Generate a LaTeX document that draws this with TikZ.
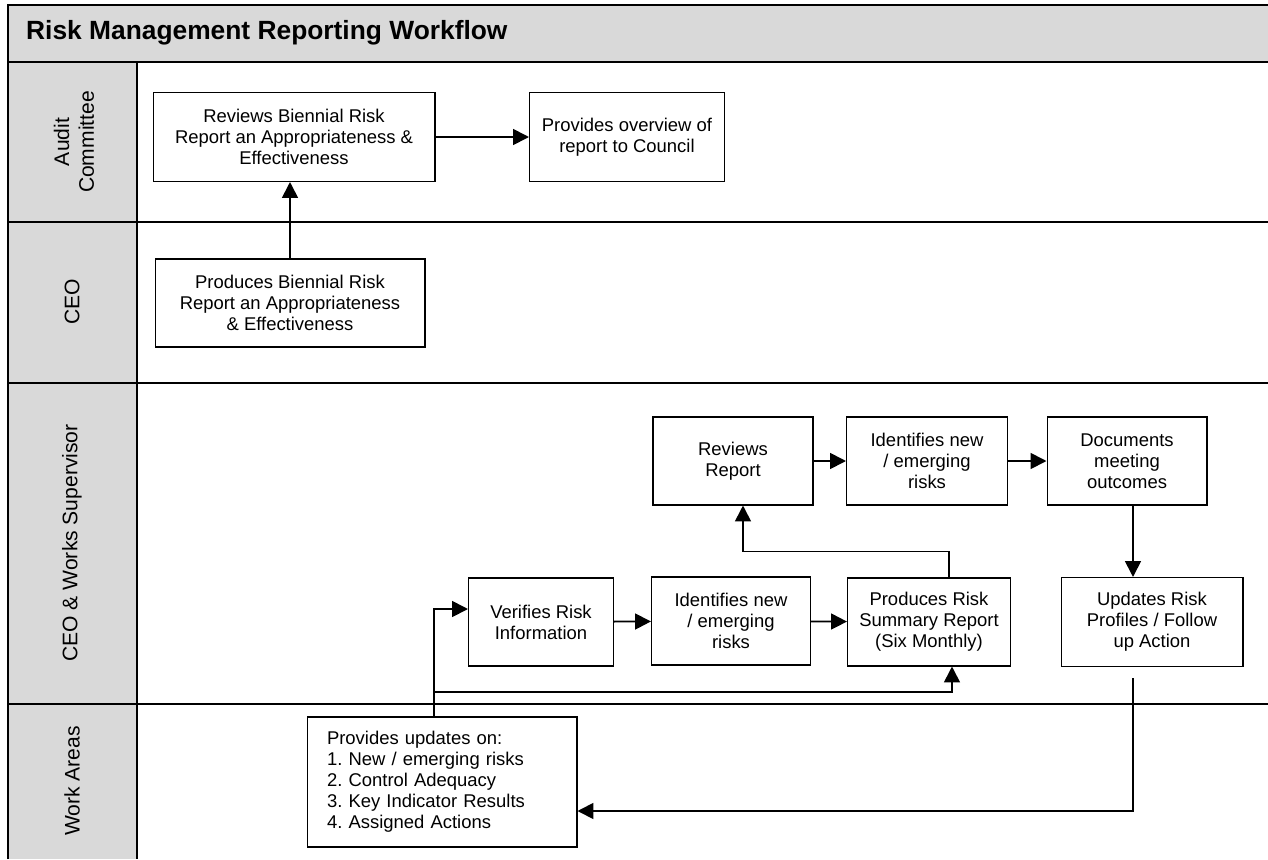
\documentclass[tikz,border=0pt]{standalone}
\usepackage{fontspec}
\setmainfont{Liberation Sans}
\usetikzlibrary{arrows.meta,positioning}
\definecolor{lanegray}{RGB}{217,217,217}
\frenchspacing

\begin{document}
\begin{tikzpicture}[x=0.02cm,y=-0.02cm]
\tikzstyle{every node}+=[font=\fontsize{10.5}{12}\selectfont]
\tikzstyle{step box}=[draw=black, line width=0.6pt, fill=white, align=center, inner sep=0pt]
\tikzstyle{lane}=[line width=1.3pt, black]
\tikzstyle{flow}=[line width=1pt, black, -{Triangle[length=9pt,width=9pt]}]
\tikzstyle{lane label}=[rotate=90, align=center, font=\fontsize{12}{14}\selectfont]
\useasboundingbox (0,0) rectangle (1268,859);
% swimlane frame
\fill [lanegray] (8,5) rectangle (1268,62);
\fill [lanegray] (8,62) rectangle (137,859);
\draw [lane] (8,859) -- (8,5) -- (1268,5);
\draw [lane] (8,62) -- (1268,62);
\draw [lane] (8,222) -- (1268,222);
\draw [lane] (8,383) -- (1268,383);
\draw [lane] (8,704) -- (1268,704);
\draw [lane] (137,62) -- (137,859);
\node (title) [anchor=west, font=\fontsize{15}{17}\selectfont\bfseries] at (20,33) {Risk Management Reporting Workflow};
\node (audit) [lane label] at (74,142) {Audit\\Committee};
\node (ceo) [lane label] at (72,302) {CEO};
\node (sup) [lane label] at (72,543) {CEO \& Works Supervisor};
\node (work) [lane label] at (72,781) {Work Areas};
% audit committee
\node (revbi) [step box, minimum width=282*0.2mm, minimum height=89*0.2mm] at (294,137) {Reviews Biennial Risk\\Report an Appropriateness \&\\Effectiveness};
\node (council) [step box, minimum width=195*0.2mm, minimum height=89*0.2mm] at (627,137) {Provides overview of\\report to Council};
% ceo
\node (prodbi) [step box, minimum width=270*0.2mm, minimum height=88*0.2mm] at (290,303) {Produces Biennial Risk\\Report an Appropriateness\\\& Effectiveness};
% ceo and works supervisor
\node (revrep) [step box, minimum width=160*0.2mm, minimum height=88*0.2mm] at (733,461) {Reviews\\Report};
\node (ident2) [step box, minimum width=161*0.2mm, minimum height=88*0.2mm] at (927,461) {Identifies new\\/ emerging\\risks};
\node (docs) [step box, minimum width=160*0.2mm, minimum height=88*0.2mm] at (1127,461) {Documents\\meeting\\outcomes};
\node (verify) [step box, minimum width=145*0.2mm, minimum height=88*0.2mm] at (541,622) {Verifies Risk\\Information};
\node (ident1) [step box, minimum width=159*0.2mm, minimum height=88*0.2mm] at (731,621) {Identifies new\\/ emerging\\risks};
\node (summary) [step box, minimum width=163*0.2mm, minimum height=88*0.2mm] at (929,622) {Produces Risk\\Summary Report\\(Six Monthly)};
\node (profiles) [step box, minimum width=182*0.2mm, minimum height=89*0.2mm] at (1152,622) {Updates Risk\\Profiles / Follow\\up Action};
% work areas
\node (updates) [step box, align=left, text width=230*0.2mm, inner xsep=20*0.2mm, minimum height=130*0.2mm] at (442,782) {Provides updates on:\\1. New / emerging risks\\2. Control Adequacy\\3. Key Indicator Results\\4. Assigned Actions};
\coordinate (split) at (434,692);
\coordinate (fromprof) at ([xshift=-3.8mm,yshift=-2.2mm]profiles.south);
% connectors
\draw [flow] (revbi) -- (council);
\draw [flow] (prodbi.north) -- (prodbi.north |- revbi.south);
\draw [flow] (revrep) -- (ident2);
\draw [flow] (ident2) -- (docs);
\draw [flow] ([xshift=1.2mm]docs.south) -- ([xshift=1.2mm]docs.south |- profiles.north);
\draw [flow] ([xshift=4mm]summary.north) -- ++(0,-26) -| ([xshift=2mm]revrep.south);
\draw [flow] (verify) -- (ident1);
\draw [flow] (ident1) -- (summary);
\draw [flow] ([xshift=-1.6mm]updates.north) |- ([yshift=2.6mm]verify.west);
\draw [flow] (split) -| ([xshift=4.6mm]summary.south);
\draw [flow] (fromprof) |- ([yshift=-5.8mm]updates.east);
\end{tikzpicture}
\end{document}
